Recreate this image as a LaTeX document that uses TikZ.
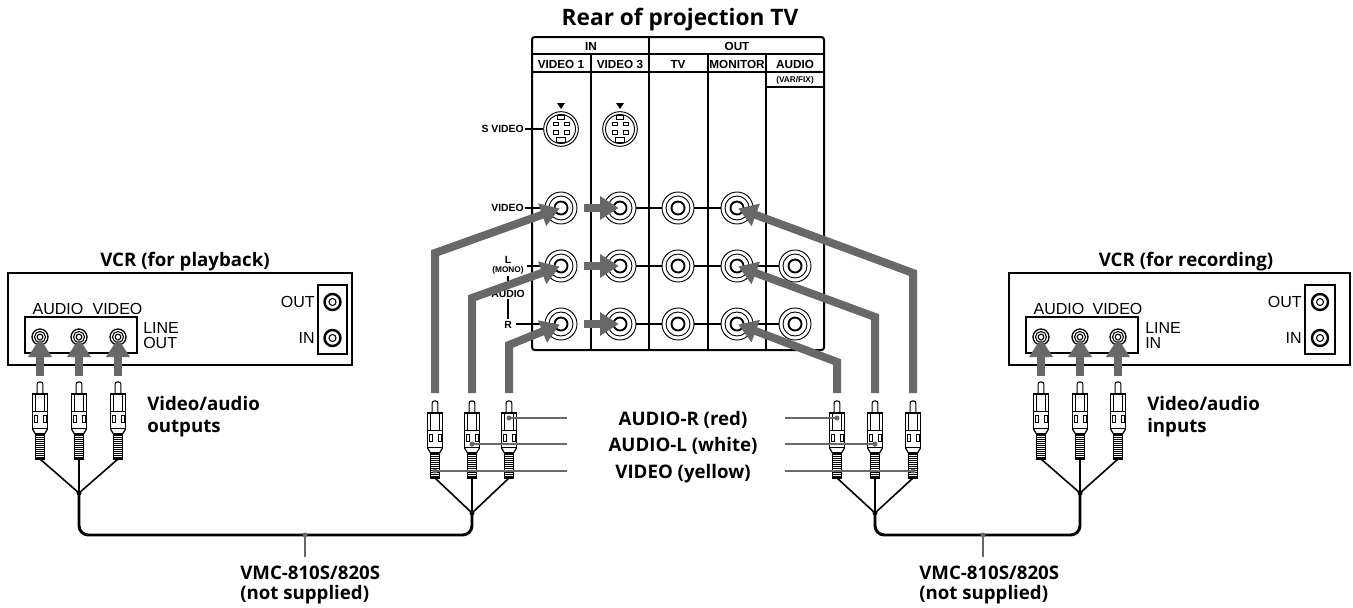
\documentclass[tikz,border=0pt]{standalone}
\usepackage{fontspec}
\setmainfont{Liberation Sans}
\newfontfamily\humfont{Open Sans}
\usetikzlibrary{arrows.meta}

\definecolor{arrowgray}{RGB}{104,104,104}

\tikzset{
  hum/.style={font=\humfont\bfseries\fontsize{14}{16}\selectfont, inner sep=0pt, anchor=base},
  panelhead/.style={font=\fontsize{8.8}{10}\selectfont\bfseries, inner sep=0pt, anchor=base},
  sidelabel/.style={font=\fontsize{7.8}{9}\selectfont\bfseries, inner sep=0pt, anchor=base},
  tinylabel/.style={font=\fontsize{6.2}{7}\selectfont\bfseries, inner sep=0pt, anchor=base},
  vcrlabel/.style={font=\fontsize{12}{14}\selectfont, inner sep=0pt, anchor=base},
  divider/.style={line width=0.9pt},
  rca/.style={circle, draw, fill=white, line width=0.7pt, minimum size=24pt, inner sep=0pt,
    path picture={\draw[line width=0.7pt] (path picture bounding box.center) circle (12);
                  \draw[line width=1.4pt] (path picture bounding box.center) circle (6.5);}},
  svid/.style={circle, draw, fill=white, line width=0.7pt, minimum size=26pt, inner sep=0pt},
  smalljack/.style={circle, draw, fill=white, line width=1pt, minimum size=12pt, inner sep=0pt,
    path picture={\draw[line width=0.8pt] (path picture bounding box.center) circle (5.5);
                  \draw[line width=0.8pt] (path picture bounding box.center) circle (2.8);}},
  antjack/.style={circle, draw, fill=white, line width=1.8pt, minimum size=12pt, inner sep=0pt,
    path picture={\draw[line width=0.8pt] (path picture bounding box.center) circle (3.5);}},
  garrow/.style={draw=arrowgray, line width=6pt, line join=miter, shorten >=1pt,
    -{Triangle[length=14pt,width=17pt]}},
  pointer/.style={draw=arrowgray, line width=1.6pt},
  fan/.style={line width=1.2pt},
  cable/.style={line width=2.2pt, rounded corners=7pt},
  rcaplug/.pic={
    % pin
    \draw[fill=white, line width=0.8pt, rounded corners=1.5pt] (-2.8,65) -- (-2.8,77) -- (2.8,77) -- (2.8,65);
    % body
    \draw[fill=white, line width=0.9pt] (-7.5,65) rectangle (7.5,30);
    \draw[line width=0.6pt] (-4.5,65) -- (-4.5,48) (4.5,65) -- (4.5,48) (-7.5,48) -- (7.5,48);
    \draw[line width=0.6pt] (-6,44) rectangle (-3,37) (3,44) rectangle (6,37);
    % taper and grip
    \draw[fill=white, line width=0.9pt] (-7.5,30) -- (-4.5,25) -- (4.5,25) -- (7.5,30);
    \draw[fill=white, line width=0.9pt] (-4.5,25) rectangle (4.5,0);
    \foreach \k in {2,4,...,24} \draw[line width=0.7pt] (-4.5,\k) -- (4.5,\k);
  }
}

\begin{document}
\begin{tikzpicture}[x=0.75pt,y=0.75pt,yscale=-1,xscale=1]
\path[use as bounding box] (0,0) rectangle (1353,607);

% Text Node
\node[hum, font=\humfont\bfseries\fontsize{17}{20}\selectfont] (title) at (680,25) {Rear of projection TV};

% Rear panel
\draw[line width=1.5pt, rounded corners=2pt] (532,37) rectangle (824,350);
\draw[divider] (532,54) -- (824,54) (532,72) -- (824,72) (766,87) -- (824,87);
\draw[divider] (591,54) -- (591,350) (649,37) -- (649,350) (708,54) -- (708,350) (766,54) -- (766,350);

\node[panelhead] (hin) at (591,50.5) {IN};
\node[panelhead] (hout) at (737,50.5) {OUT};
\node[panelhead] (hv1) at (561,68.5) {VIDEO 1};
\node[panelhead] (hv3) at (620,68.5) {VIDEO 3};
\node[panelhead] (htv) at (678,68.5) {TV};
\node[panelhead] (hmon) at (737,68.5) {MONITOR};
\node[panelhead] (haud) at (795,68.5) {AUDIO};
\node[tinylabel] (hvar) at (795,82.5) {(VAR/FIX)};

% S video sockets
\foreach \n/\x in {sv1/561,sv3/620}{
  \node[svid] (\n) at (\x,129) {};
  \fill (\x-4,103) -- (\x+4,103) -- (\x,109) -- cycle;
  \begin{scope}[shift={(\x,129)}, line width=0.6pt]
    \draw[line width=0.7pt] (0,0) circle (14.5);
    \draw (-3.3,-13.5) rectangle (3.3,-10);
    \draw (-8,-6.7) rectangle (-3,-3.3) (3,-6.7) rectangle (8,-3.3);
    \draw (-8,1.7) rectangle (-3,5) (3,1.7) rectangle (8,5);
    \draw (-4.5,8.5) rectangle (4.5,13);
  \end{scope}
}

% Jacks
\foreach \col/\x in {v1/561,v3/620,tv/678,mon/737}{
  \foreach \row/\y in {v/208,l/266,r/324}{
    \node[rca] (\col\row) at (\x,\y) {};
  }
}
\node[rca] (audl) at (795,266) {};
\node[rca] (audr) at (795,324) {};
\foreach \row in {v,l,r}{
  \draw[divider] (v3\row) -- (tv\row) -- (mon\row);
}
\draw[divider] (monl) -- (audl);
\draw[divider] (monr) -- (audr);

% Side labels
\node[sidelabel, anchor=base east] (lsv) at (524,132) {S VIDEO};
\draw[divider, shorten <=1pt] (lsv.east |- sv1.west) -- (sv1.west);
\node[sidelabel, anchor=base east] (lvid) at (524,211) {VIDEO};
\draw[divider, shorten <=1pt] (lvid.east |- v1v.west) -- (v1v.west);
\node[sidelabel] (lleft) at (508,263) {L};
\node[tinylabel] (lmono) at (508,272) {(MONO)};
\draw[divider, shorten <=2pt] (lmono.east |- v1l.west) -- (v1l.west);
\node[sidelabel] (laud) at (508,297) {AUDIO};
\node[sidelabel] (lright) at (508,328) {R};
\draw[divider, shorten <=1.5pt, shorten >=1.5pt] (lmono.south) -- (laud.north);
\draw[divider, shorten <=1.5pt, shorten >=1.5pt] (laud.south) -- (lright.north);
\draw[divider, shorten <=3pt] (lright.east |- v1r.west) -- (v1r.west);

% Coordinates for cables and plugs
\coordinate (pa1) at (40,459);   \coordinate (pa2) at (79,459);   \coordinate (pa3) at (118,459);
\coordinate (pb1) at (435,478);  \coordinate (pb2) at (472,478);  \coordinate (pb3) at (509,478);
\coordinate (pc1) at (837,478);  \coordinate (pc2) at (875,478);  \coordinate (pc3) at (913,478);
\coordinate (pd1) at (1041,459); \coordinate (pd2) at (1080,459); \coordinate (pd3) at (1118,459);
\coordinate (ja) at (79,493);  \coordinate (jb) at (472,513);
\coordinate (jc) at (875,513); \coordinate (jd) at (1080,493);
\coordinate (ca) at (79,535);  \coordinate (cb) at (472,535);
\coordinate (cc) at (875,535); \coordinate (cd) at (1080,535);

% Arrows into the panel
\foreach \row in {v,l,r}{
  \draw[garrow, shorten <=5pt] (v1\row.east) -- (v3\row.center);
}
\coordinate (lt1) at (435,393); \coordinate (lb1) at (435,253);
\coordinate (lt2) at (472,393); \coordinate (lb2) at (472,298);
\coordinate (lt3) at (509,393); \coordinate (lb3) at (509,345);
\draw[garrow] (lt1) -- (lb1) -- (v1v.center);
\draw[garrow] (lt2) -- (lb2) -- (v1l.center);
\draw[garrow] (lt3) -- (lb3) -- (v1r.center);
\coordinate (rt1) at (837,393); \coordinate (rb1) at (837,362);
\coordinate (rt2) at (875,393); \coordinate (rb2) at (875,317);
\coordinate (rt3) at (913,393); \coordinate (rb3) at (913,273);
\draw[garrow] (rt1) -- (rb1) -- (monr.center);
\draw[garrow] (rt2) -- (rb2) -- (monl.center);
\draw[garrow] (rt3) -- (rb3) -- (monv.center);

% VCR (for playback)
\node[hum] (vcrp) at (185,266) {VCR (for playback)};
\draw[line width=2pt] (8,273) rectangle (352,365);
\draw[line width=1pt] (25,317) rectangle (137,353);
\node[vcrlabel] (pbaud) at (58,314) {AUDIO};
\node[vcrlabel] (pbvid) at (117.5,314) {VIDEO};
\node[vcrlabel, anchor=base west] (pbline) at (143,333) {LINE};
\node[vcrlabel, anchor=base west] (pbout) at (143,348) {OUT};
\node[smalljack] (pbj1) at (40,337) {};
\node[smalljack] (pbj2) at (79,337) {};
\node[smalljack] (pbj3) at (118,337) {};
\draw[line width=1pt] (318,285) rectangle (347,354);
\node[antjack] (pbant1) at (332.5,302) {};
\node[antjack] (pbant2) at (332.5,338) {};
\node[vcrlabel, anchor=base east] (pbrfo) at (315,307) {OUT};
\node[vcrlabel, anchor=base east] (pbrfi) at (315,343) {IN};

% VCR (for recording)
\node[hum] (vcrr) at (1186,266) {VCR (for recording)};
\draw[line width=2pt] (1009,273) rectangle (1350,365);
\draw[line width=1pt] (1026,317) rectangle (1138,353);
\node[vcrlabel] (rcaud) at (1059,314) {AUDIO};
\node[vcrlabel] (rcvid) at (1117.5,314) {VIDEO};
\node[vcrlabel, anchor=base west] (rcline) at (1145,333) {LINE};
\node[vcrlabel, anchor=base west] (rcin) at (1145,348) {IN};
\node[smalljack] (rcj1) at (1041,337) {};
\node[smalljack] (rcj2) at (1080,337) {};
\node[smalljack] (rcj3) at (1118,337) {};
\draw[line width=1pt] (1305,285) rectangle (1335,354);
\node[antjack] (rcant1) at (1320,302) {};
\node[antjack] (rcant2) at (1320,338) {};
\node[vcrlabel, anchor=base east] (rcrfo) at (1302,307) {OUT};
\node[vcrlabel, anchor=base east] (rcrfi) at (1302,343) {IN};

% Arrows into the VCRs
\foreach \i/\x in {1/40,2/79,3/118}{
  \coordinate (sa\i) at (\x,376);
  \draw[garrow] (sa\i) -- (pbj\i.center);
}
\foreach \i/\x in {1/1041,2/1080,3/1118}{
  \coordinate (sd\i) at (\x,376);
  \draw[garrow] (sd\i) -- (rcj\i.center);
}

% Cables
\draw[fan] (pa1) -- (ja) (pa2) -- (ja) (pa3) -- (ja);
\draw[fan] (pb1) -- (jb) (pb2) -- (jb) (pb3) -- (jb);
\draw[fan] (pc1) -- (jc) (pc2) -- (jc) (pc3) -- (jc);
\draw[fan] (pd1) -- (jd) (pd2) -- (jd) (pd3) -- (jd);
\foreach \j in {ja,jb,jc,jd} \fill (\j) circle (2.5);
\draw[cable] (ja) -- (ca) -- (cb) -- (jb);
\draw[cable] (jc) -- (cc) -- (cd) -- (jd);

% Plugs
\foreach \p in {pa1,pa2,pa3,pb1,pb2,pb3,pc1,pc2,pc3,pd1,pd2,pd3}
  \pic at (\p) {rcaplug};

% Plug labels
\node[hum, anchor=base west] (outa) at (147,410) {Video/audio};
\node[hum, anchor=base west] (outb) at (147,432) {outputs};
\node[hum, anchor=base west] (ina) at (1147,410) {Video/audio};
\node[hum, anchor=base west] (inb) at (1147,432) {inputs};

\node[hum] (lred) at (683,425) {AUDIO-R (red)};
\node[hum] (lwhite) at (683,451) {AUDIO-L (white)};
\node[hum] (lyellow) at (683,478) {VIDEO (yellow)};
\coordinate (dl1) at (509,418); \coordinate (dl2) at (472,444); \coordinate (dl3) at (435,471);
\coordinate (dr1) at (837,418); \coordinate (dr2) at (875,444); \coordinate (dr3) at (913,471);
\foreach \d/\y in {1/418,2/444,3/471}{
  \draw[pointer] (dl\d) -- (567,\y);
  \draw[pointer] (785,\y) -- (dr\d);
  \fill[arrowgray] (dl\d) circle (2.5);
  \fill[arrowgray] (dr\d) circle (2.5);
}

% Cable labels
\coordinate (kl) at (305,535); \coordinate (kr) at (983,535);
\draw[pointer] (kl) -- (305,557);
\draw[pointer] (kr) -- (983,557);
\fill[arrowgray] (kl) circle (2.5);
\fill[arrowgray] (kr) circle (2.5);
\node[hum, anchor=base west] (vmcl) at (240,579) {VMC-810S/820S};
\node[hum, anchor=base west] (vmcl2) at (240,599) {(not supplied)};
\node[hum, anchor=base west] (vmcr) at (919,579) {VMC-810S/820S};
\node[hum, anchor=base west] (vmcr2) at (919,599) {(not supplied)};

\end{tikzpicture}
\end{document}
